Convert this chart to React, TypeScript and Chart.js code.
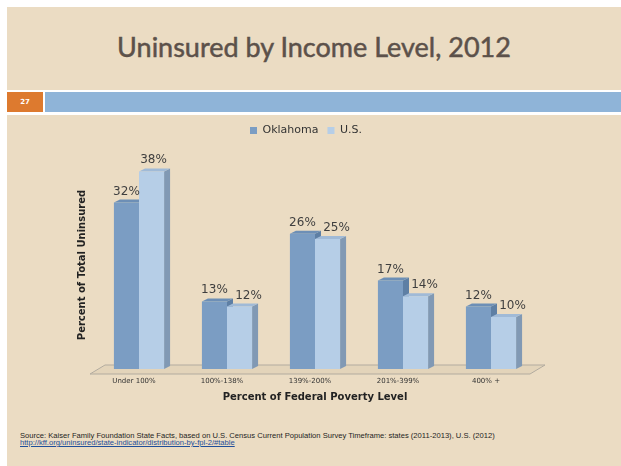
import React, { useEffect, useRef } from "react";
import { Chart, registerables } from "chart.js";

Chart.register(...registerables);

const slideTitle = "Uninsured by Income Level, 2012";
const slideNumber = "27";
const categories = ["Under 100%", "100%-138%", "139%-200%", "201%-399%", "400% +"];
const seriesNames = ["Oklahoma", "U.S."];
const oklahoma = [32, 13, 26, 17, 12];
const us = [38, 12, 25, 14, 10];
const yAxisTitle = "Percent of Total Uninsured";
const xAxisTitle = "Percent of Federal Poverty Level";
const yMax = 40;
const sourceLine =
  "Source: Kaiser Family Foundation State Facts, based on U.S. Census Current Population Survey Timeframe: states (2011-2013), U.S. (2012)";
const sourceLink = "http://kff.org/uninsured/state-indicator/distribution-by-fpl-2/#table";

const FONT = "'DejaVu Sans', sans-serif";
const DX = 6;
const DY = -3;
const frontColors = ["#7B9DC3", "#B6CEE7"];
const sideColors = ["#5E7FA4", "#8199B4"];
const topColors = ["#6D8FB6", "#A0BAD7"];

const bar3d = {
  id: "bar3d",
  beforeDatasetsDraw(chart: any) {
    const ctx = chart.ctx;
    const a = chart.chartArea;
    ctx.save();
    // floor
    ctx.beginPath();
    ctx.moveTo(a.left - 5, a.bottom + 5);
    ctx.lineTo(a.right - 5, a.bottom + 5);
    ctx.lineTo(a.right + 10, a.bottom - 4);
    ctx.lineTo(a.left + 10, a.bottom - 4);
    ctx.closePath();
    ctx.fillStyle = "#E3D4BA";
    ctx.fill();
    ctx.strokeStyle = "#B2AB9F";
    ctx.lineWidth = 1;
    ctx.stroke();
    chart.data.datasets.forEach((_ds: any, di: number) => {
      const meta = chart.getDatasetMeta(di);
      meta.data.forEach((bar: any) => {
        const { x, y, base, width } = bar.getProps(["x", "y", "base", "width"], true);
        const l = x - width / 2;
        const r = x + width / 2;
        ctx.beginPath();
        ctx.moveTo(r, y);
        ctx.lineTo(r + DX, y + DY);
        ctx.lineTo(r + DX, base + DY);
        ctx.lineTo(r, base);
        ctx.closePath();
        ctx.fillStyle = sideColors[di];
        ctx.fill();
        ctx.beginPath();
        ctx.moveTo(l, y);
        ctx.lineTo(l + DX, y + DY);
        ctx.lineTo(r + DX, y + DY);
        ctx.lineTo(r, y);
        ctx.closePath();
        ctx.fillStyle = topColors[di];
        ctx.fill();
      });
    });
    ctx.restore();
  },
};

const valueLabels = {
  id: "valueLabels",
  afterDatasetsDraw(chart: any) {
    const ctx = chart.ctx;
    ctx.save();
    ctx.font = `12px ${FONT}`;
    ctx.fillStyle = "#3F3F3F";
    ctx.textAlign = "center";
    ctx.textBaseline = "alphabetic";
    chart.data.datasets.forEach((ds: any, di: number) => {
      const meta = chart.getDatasetMeta(di);
      meta.data.forEach((bar: any, i: number) => {
        const { x, y } = bar.getProps(["x", "y"], true);
        let shift = 0;
        if (di === 1) {
          const other = chart.getDatasetMeta(0).data[i];
          shift = Math.abs(other.y - y) < 20 ? 9 : 2;
        }
        ctx.fillText(ds.data[i] + "%", x + shift, y - 8);
      });
    });
    ctx.restore();
  },
};

function BarChart() {
  const ref = useRef<HTMLCanvasElement | null>(null);
  useEffect(() => {
    if (!ref.current) return;
    const axisBase = {
      grid: { display: false, drawTicks: false },
      border: { display: false },
    };
    const chart = new Chart(ref.current, {
      type: "bar",
      data: {
        labels: categories,
        datasets: [
          {
            label: seriesNames[0],
            data: oklahoma,
            backgroundColor: frontColors[0],
            borderWidth: 0,
            categoryPercentage: 0.57,
            barPercentage: 1,
            xAxisID: "x",
            yAxisID: "y",
          },
          {
            label: seriesNames[1],
            data: us,
            backgroundColor: frontColors[1],
            borderWidth: 0,
            categoryPercentage: 0.57,
            barPercentage: 1,
            xAxisID: "x",
            yAxisID: "y",
          },
        ],
      },
      options: {
        responsive: false,
        animation: false,
        layout: { padding: 0 },
        plugins: {
          legend: {
            display: true,
            position: "top",
            labels: {
              boxWidth: 7,
              boxHeight: 7,
              padding: 9,
              color: "#333333",
              font: { family: FONT, size: 11 },
            },
          },
          tooltip: { enabled: false },
        },
        scales: {
          x: {
            ...axisBase,
            position: "bottom",
            ticks: {
              font: { family: FONT, size: 7 },
              color: "#333333",
              padding: 8,
              labelOffset: -5,
              maxRotation: 0,
              autoSkip: false,
            },
            title: {
              display: true,
              text: xAxisTitle,
              color: "#222222",
              font: { family: FONT, size: 10, weight: "bold" },
              padding: { top: 0, bottom: 7 },
            },
            afterFit: (s: any) => {
              s.height = 41;
            },
          },
          xTop: {
            ...axisBase,
            type: "category",
            position: "top",
            ticks: { display: false },
            afterFit: (s: any) => {
              s.height = 15;
            },
          },
          y: {
            ...axisBase,
            min: 0,
            max: yMax,
            ticks: { display: false },
            title: {
              display: true,
              text: yAxisTitle,
              color: "#222222",
              font: { family: FONT, size: 10, weight: "bold" },
              padding: { top: 16, bottom: 0 },
            },
            afterFit: (s: any) => {
              s.width = 35;
            },
          },
          yRight: {
            ...axisBase,
            type: "linear",
            position: "right",
            ticks: { display: false },
            afterFit: (s: any) => {
              s.width = 17;
            },
          },
        },
      } as any,
      plugins: [bar3d, valueLabels],
    });
    return () => chart.destroy();
  }, []);
  return (
    <canvas
      ref={ref}
      width={492}
      height={294}
      style={{ position: "absolute", left: 53, top: 109, width: 492, height: 294, display: "block" }}
    />
  );
}

export default function App() {
  return (
    <div
      style={{
        position: "fixed",
        left: 7,
        top: 7,
        width: 614,
        height: 459,
        background: "#EBDCC3",
        overflow: "hidden",
      }}
    >
      <div
        style={{
          position: "absolute",
          left: 0,
          right: 0,
          top: 26,
          textAlign: "center",
          fontFamily: "Lato, sans-serif",
          fontSize: 27,
          lineHeight: "27px",
          color: "#5C514A",
          WebkitTextStroke: "0.5px #5C514A",
        }}
      >
        {slideTitle}
      </div>
      <div style={{ position: "absolute", left: 0, right: 0, top: 83, height: 25, background: "#FFFFFF" }} />
      <div
        style={{
          position: "absolute",
          left: 0,
          top: 85,
          width: 36,
          height: 20,
          background: "#DD7A2F",
          color: "#FFFFFF",
          fontFamily: FONT,
          fontWeight: "bold",
          fontSize: 7,
          lineHeight: "20px",
          textAlign: "center",
        }}
      >
        {slideNumber}
      </div>
      <div style={{ position: "absolute", left: 38, right: 0, top: 85, height: 20, background: "#8FB4D8" }} />
      <BarChart />
      <div
        style={{
          position: "absolute",
          left: 13,
          top: 425,
          fontFamily: "'Liberation Sans', Arial, sans-serif",
          fontSize: 7.6,
          lineHeight: "7px",
          color: "#1E1E1E",
          whiteSpace: "nowrap",
        }}
      >
        <div>{sourceLine}</div>
        <div style={{ color: "#1F4E9A", textDecoration: "underline" }}>{sourceLink}</div>
      </div>
    </div>
  );
}
